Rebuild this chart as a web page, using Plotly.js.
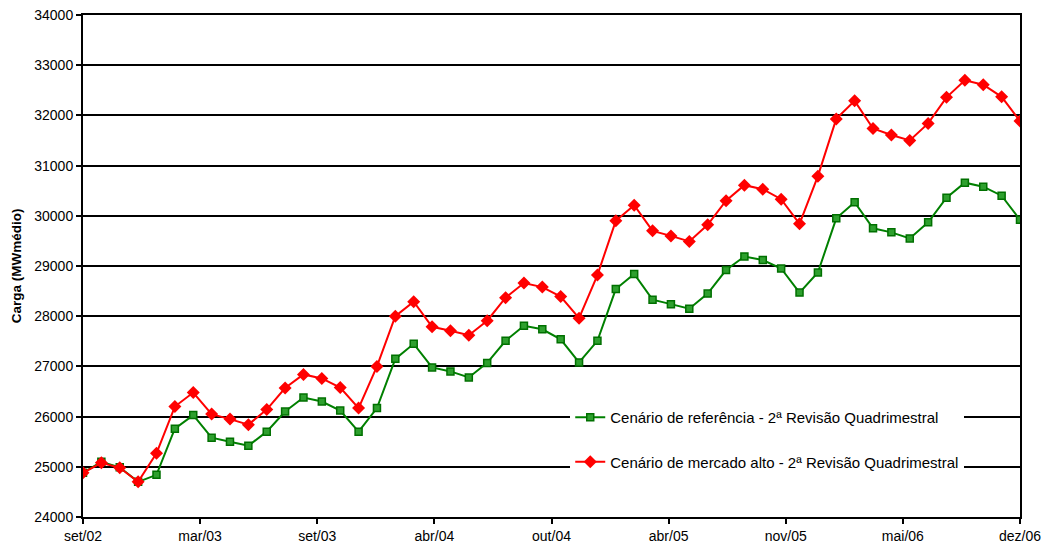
<!DOCTYPE html>
<html>
<head>
<meta charset="utf-8">
<script src="https://cdn.plot.ly/plotly-3.0.1.min.js"></script>
<style>html,body{margin:0;padding:0;background:#fff;}#chart{width:1049px;height:550px;}</style>
</head>
<body>
<div id="chart"></div>
<script>
// Monthly points from set/02 to dez/06 (52 months)
const monthIndex = Array.from({length: 52}, (_, i) => i);
const tickPositions = [0, 6.375, 12.75, 19.125, 25.5, 31.875, 38.25, 44.625, 51];
const tickLabels = ["set/02", "mar/03", "set/03", "abr/04", "out/04", "abr/05", "nov/05", "mai/06", "dez/06"];

const referencia = [
  24880, 25100, 24990, 24700, 24840, 25760, 26030, 25580, 25500, 25420,
  25700, 26100, 26380, 26300, 26120, 25700, 26170, 27150, 27450, 26980,
  26900, 26780, 27070, 27510, 27810, 27740, 27540, 27080, 27510, 28540,
  28840, 28330, 28240, 28150, 28450, 28920, 29190, 29120, 28950, 28470,
  28870, 29950, 30270, 29750, 29670, 29550, 29870, 30360, 30660, 30580,
  30400, 29920
];
const mercadoAlto = [
  24880, 25080, 24980, 24700, 25270, 26200, 26480, 26050, 25950, 25840,
  26140, 26570, 26840, 26760, 26580, 26170, 27000, 28000, 28290, 27790,
  27710, 27620, 27910, 28370, 28660, 28580, 28390, 27960, 28820, 29900,
  30210, 29700, 29600, 29490, 29820, 30300, 30610, 30530, 30330, 29840,
  30790, 31930, 32290, 31740, 31610, 31500, 31840, 32360, 32700, 32610,
  32370, 31890
];

const traces = [
  {
    x: monthIndex, y: referencia, type: 'scatter', mode: 'lines+markers',
    name: 'Cenário de referência - 2ª Revisão Quadrimestral',
    legendgroup: 'a',
    line: {color: '#008000', width: 2},
    marker: {symbol: 'square', size: 7, color: '#2ea02e', line: {color: '#007000', width: 1.5}}
  },
  {
    x: monthIndex, y: mercadoAlto, type: 'scatter', mode: 'lines+markers',
    name: 'Cenário de mercado alto - 2ª Revisão Quadrimestral',
    legendgroup: 'b',
    line: {color: '#ff0000', width: 2},
    marker: {symbol: 'diamond', size: 10, color: '#ff0000'}
  }
];

const layout = {
  width: 1049, height: 550,
  margin: {l: 83, r: 29, t: 15, b: 33},
  paper_bgcolor: '#ffffff', plot_bgcolor: '#ffffff',
  font: {family: 'Liberation Sans, Arial, sans-serif', size: 14, color: '#000'},
  showlegend: true,
  legend: {
    x: 0.52, y: 0.231, xanchor: 'left', yanchor: 'top',
    bgcolor: '#ffffff', borderwidth: 0,
    font: {size: 15, color: '#000'},
    tracegroupgap: 22
  },
  xaxis: {
    range: [0, 51], tickmode: 'array', tickvals: tickPositions, ticktext: tickLabels,
    showgrid: false, zeroline: false,
    showline: true, linecolor: '#000', linewidth: 2, mirror: true,
    ticks: 'outside', ticklen: 5, tickwidth: 2, tickcolor: '#000',
    tickfont: {size: 14}
  },
  yaxis: {
    range: [24000, 34000], dtick: 1000, tickformat: 'd',
    showgrid: true, gridcolor: '#000', gridwidth: 1.5, zeroline: false,
    showline: true, linecolor: '#000', linewidth: 2, mirror: true,
    ticks: 'outside', ticklen: 5, tickwidth: 2, tickcolor: '#000',
    tickfont: {size: 14},
    title: {text: 'Carga (MWmédio)', font: {size: 13.5, weight: 'bold'}, standoff: 10}
  }
};

Plotly.newPlot('chart', traces, layout, {displayModeBar: false});
</script>
</body>
</html>
